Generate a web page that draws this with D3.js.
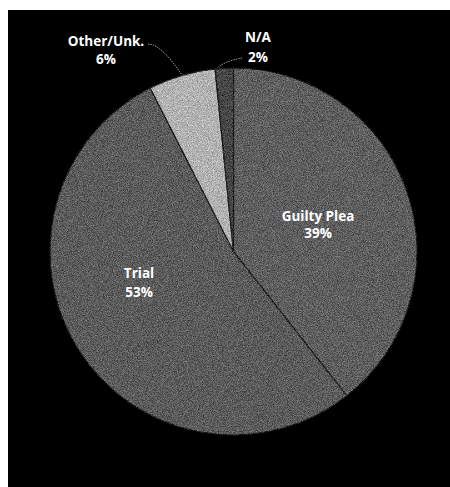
<!DOCTYPE html>
<html><head><meta charset="utf-8">
<script src="https://cdn.jsdelivr.net/npm/d3@7"></script>
<style>
html,body{margin:0;padding:0;background:#fff;}
svg{display:block;}
text{font-family:"Open Sans","DejaVu Sans",sans-serif;font-weight:700;}
</style></head>
<body>
<svg id="chart" width="450" height="487"></svg>
<script>
// Data (order: clockwise from 12 o'clock)
const categories = ["Guilty Plea", "Trial", "Other/Unk.", "N/A"];
const values = [39.4, 53.1, 5.9, 1.6];
const percentLabels = ["39%", "53%", "6%", "2%"];
const fills = ["#5e5e5e", "#5b5b5b", "#b2b2b2", "#464646"];

const svg = d3.select("#chart");
const W = 450, H = 487;
svg.append("rect").attr("x", 8).attr("y", 10).attr("width", W - 8).attr("height", H - 10).attr("fill", "#000");

const defs = svg.append("defs");
const flt = defs.append("filter").attr("id", "grain")
  .attr("x", "-2%").attr("y", "-2%").attr("width", "104%").attr("height", "104%")
  .attr("color-interpolation-filters", "sRGB");
flt.append("feTurbulence").attr("type", "fractalNoise").attr("baseFrequency", 1.2).attr("numOctaves", 1).attr("seed", 5).attr("result", "noise");
flt.append("feColorMatrix").attr("in", "noise").attr("type", "matrix")
  .attr("values", "1 0 0 0 0  1 0 0 0 0  1 0 0 0 0  0 0 0 0 1").attr("result", "gz");
flt.append("feComposite").attr("in", "SourceGraphic").attr("in2", "gz").attr("operator", "arithmetic")
  .attr("k1", 0).attr("k2", 1).attr("k3", 0.6).attr("k4", -0.3).attr("result", "mix");
flt.append("feComposite").attr("in", "mix").attr("in2", "SourceGraphic").attr("operator", "in");

const cx = 233.5, cy = 251.5, R = 183.5;
const g = svg.append("g").attr("transform", `translate(${cx},${cy})`);

const pie = d3.pie().sort(null).value(d => d.v);
const data = categories.map((c, i) => ({ c, v: values[i], p: percentLabels[i], f: fills[i] }));
const arcs = pie(data);
const arc = d3.arc().innerRadius(0).outerRadius(R);

const slices = g.append("g").attr("filter", "url(#grain)");
slices.selectAll("path.slice").data(arcs).enter().append("path")
  .attr("class", "slice")
  .attr("d", arc)
  .attr("fill", d => d.data.f)
  .attr("stroke", "#1e1e1e").attr("stroke-width", 1.2);

// Labels
const labelPos = {
  "Guilty Plea": [318, 221, 238],
  "Trial": [139, 278, 297],
  "Other/Unk.": [106, 46, 64],
  "N/A": [258, 42, 62]
};
arcs.forEach(a => {
  const [x, y1, y2] = labelPos[a.data.c];
  const t = svg.append("text").attr("fill", "#fff").attr("font-size", 13.5).attr("text-anchor", "middle");
  t.append("tspan").attr("x", x).attr("y", y1).text(a.data.c);
  t.append("tspan").attr("x", x).attr("y", y2).text(a.data.p);
});

// Leader lines
const line = d3.line().curve(d3.curveBasis);
const leaders = [
  [[148, 44], [156, 45], [170, 58], [182, 75]],
  [[242, 58], [232, 60], [222, 64], [217, 68]]
];
leaders.forEach(pts => {
  svg.append("path").attr("d", line(pts)).attr("fill", "none")
    .attr("stroke", "#9a9a9a").attr("stroke-width", 1).attr("stroke-dasharray", "1.5,1");
});
</script>
</body></html>
